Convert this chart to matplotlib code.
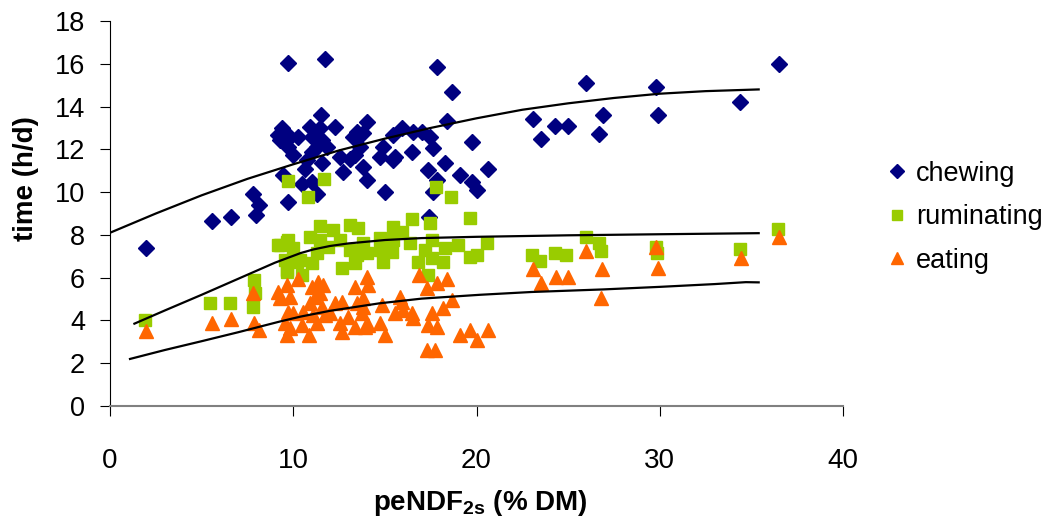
import matplotlib
matplotlib.use("Agg")
import matplotlib.pyplot as plt

plt.rcParams['font.family'] = ['Liberation Sans', 'DejaVu Sans']
plt.rcParams['mathtext.fontset'] = 'custom'
plt.rcParams['mathtext.bf'] = 'Liberation Sans:bold'
plt.rcParams['mathtext.rm'] = 'Liberation Sans'

# chewing time (h/d) vs peNDF2s (% DM)
chew_x = [1.96, 5.55, 6.58, 7.82, 8.15, 7.95, 9.73, 9.73, 11.73, 17.82, 18.66, 18.37,
          11.51, 9.37, 9.18, 9.27, 9.82, 10.27, 9.73, 10.0, 10.91, 11.46, 11.0, 11.55,
          12.27, 11.28, 11.82, 11.0, 10.73, 11.55, 10.64, 9.46, 10.46, 11.0, 11.28,
          12.55, 12.73, 13.09, 13.27, 13.46, 14.0, 13.82, 13.64, 13.37, 13.82, 14.0,
          14.91, 14.73, 15.0, 15.46, 15.91, 15.55, 15.46, 16.46, 16.55, 17.0, 17.46,
          17.64, 17.37, 17.82, 17.64, 18.28, 19.09, 19.73, 19.73, 20.0, 20.64, 17.42,
          23.1, 23.5, 24.3, 25.0, 26.0, 26.9, 26.7, 29.8, 29.9, 34.4, 36.5]
chew_y = [7.38, 8.64, 8.85, 9.9, 9.39, 8.93, 9.55, 16.04, 16.21, 15.86, 14.69, 13.32,
          13.6, 12.98, 12.66, 12.43, 12.58, 12.58, 12.12, 11.73, 13.05, 12.98, 12.58, 12.43,
          13.05, 12.12, 12.12, 11.88, 11.5, 11.34, 11.1, 10.79, 10.37, 10.48, 9.91,
          11.65, 10.95, 11.57, 12.58, 12.82, 13.29, 12.74, 12.12, 11.73, 11.18, 10.56,
          12.12, 11.65, 9.99, 12.66, 12.98, 11.65, 11.5, 11.88, 12.82, 12.82, 12.58,
          12.04, 11.03, 10.56, 10.01, 11.34, 10.79, 12.35, 10.48, 10.09, 11.07, 8.85,
          13.4, 12.5, 13.1, 13.1, 15.1, 13.6, 12.7, 14.9, 13.6, 14.2, 16.0]

# ruminating time (h/d)
rum_x = [1.91, 5.46, 6.55, 7.78, 7.86, 7.91, 9.27, 9.73, 9.64, 10.18,
         9.69, 11.67, 10.82, 17.77, 18.59, 16.46, 19.64, 17.46, 11.46, 12.18, 13.09,
         13.55, 15.46, 15.91, 14.73, 9.18, 9.64, 10.0, 9.55, 9.64, 10.37, 10.91, 11.46,
         11.28, 11.0, 10.46, 11.91, 12.55, 12.64, 13.09, 13.46, 13.37, 13.82, 14.0,
         14.73, 14.91, 15.46, 15.37, 16.37, 16.82, 17.18, 17.55, 17.55, 18.28, 18.18,
         19.0, 19.64, 20.0, 20.6, 17.37,
         23.04, 23.46, 24.3, 24.9, 25.97, 26.7, 26.8, 29.77, 29.86, 34.37, 36.46]
rum_y = [4.02, 4.83, 4.83, 4.64, 5.89, 5.27, 7.52, 7.76, 6.36, 6.74,
         10.51, 10.59, 9.78, 10.25, 9.78, 8.74, 8.79, 8.54, 8.43, 8.22, 8.46,
         8.3, 8.38, 8.14, 7.84, 7.52, 7.68, 7.37, 6.82, 6.28, 6.82, 7.91, 7.76,
         7.14, 6.67, 6.12, 7.45, 7.76, 6.43, 7.29, 7.06, 6.67, 7.6, 7.14,
         7.29, 6.74, 7.76, 7.21, 7.6, 6.74, 7.29, 7.76, 6.9, 7.37, 6.74,
         7.52, 6.98, 7.06, 7.6, 6.12,
         7.06, 6.79, 7.16, 7.06, 7.88, 7.6, 7.24, 7.44, 7.16, 7.34, 8.26]

# eating time (h/d)
eat_x = [1.96, 5.55, 6.58, 7.82, 7.86, 8.15, 9.18, 9.64, 9.27, 9.82, 10.27, 9.73,
         10.0, 9.55, 9.82, 9.64, 10.55, 10.46, 10.87, 11.0, 11.37, 11.64, 11.18, 11.46,
         10.91, 11.55, 11.09, 11.73, 11.28, 12.0, 12.27, 12.64, 12.55, 12.64, 13.0,
         13.37, 13.46, 13.37, 13.82, 13.73, 13.91, 14.0, 14.09, 13.82, 14.09, 14.82,
         14.73, 15.0, 15.55, 15.91, 16.0, 16.46, 16.55, 16.87, 17.28, 17.37, 17.82,
         17.55, 17.28, 17.73, 17.82, 18.37, 18.64, 18.18, 19.09, 19.64, 20.0, 20.64,
         15.82, 23.1, 23.5, 24.33, 24.97, 26.0, 26.86, 26.77, 29.79, 29.91, 34.44, 36.51]
eat_y = [3.52, 3.86, 4.05, 5.3, 3.89, 3.55, 5.34, 5.65, 5.03, 5.11, 5.92, 4.41,
         4.33, 3.86, 3.63, 3.32, 4.41, 3.79, 3.32, 5.57, 5.81, 5.65, 5.11, 5.27,
         4.8, 4.64, 4.25, 4.25, 3.86, 4.33, 4.8, 4.87, 3.86, 3.47, 4.17,
         5.57, 4.8, 3.71, 5.03, 4.33, 3.71, 6.04, 5.65, 4.64, 3.79, 4.72,
         3.86, 3.32, 4.33, 4.87, 4.49, 4.33, 4.1, 6.12, 5.5, 3.79, 3.71,
         4.33, 2.62, 2.62, 5.73, 5.92, 4.95, 4.57, 3.32, 3.55, 3.08, 3.55,
         5.11, 6.39, 5.73, 6.01, 6.01, 7.26, 6.39, 5.03, 7.44, 6.46, 6.9, 7.91]

# trend curves
chew_fit_x = [0, 2.5, 5, 7.5, 10, 12.5, 15, 17.5, 20, 22.5, 25, 27.5, 30, 32.5, 35.4]
chew_fit_y = [8.1, 9.0, 9.85, 10.62, 11.3, 11.95, 12.5, 13.0, 13.45, 13.85, 14.15, 14.4, 14.6, 14.72, 14.8]
rum_fit_x = [1.33, 3, 5, 7, 9, 10.4, 11.1, 12, 13, 15, 17, 20, 25, 30, 35.4]
rum_fit_y = [3.85, 4.47, 5.2, 5.95, 6.7, 7.15, 7.32, 7.48, 7.6, 7.76, 7.85, 7.91, 7.98, 8.03, 8.08]
eat_fit_x = [1.09, 3, 5, 7, 9.27, 10.4, 12, 14.7, 17, 20.2, 23, 26.9, 30, 33, 34.7, 35.4]
eat_fit_y = [2.2, 2.62, 3.03, 3.45, 3.95, 4.18, 4.45, 4.8, 5.02, 5.2, 5.33, 5.45, 5.57, 5.7, 5.79, 5.78]

fig = plt.figure(figsize=(10.52, 5.18), dpi=100)
ax = fig.add_axes([0.1046, 0.2162, 0.6967, 0.7433])

ax.plot(chew_fit_x, chew_fit_y, color="black", lw=1.6, zorder=3)
ax.plot(rum_fit_x, rum_fit_y, color="black", lw=1.6, zorder=3)
ax.plot(eat_fit_x, eat_fit_y, color="black", lw=1.6, zorder=3)

ax.plot(chew_x, chew_y, "D", color="#000080", ms=8.5, mec="#000080", label="chewing", zorder=2)
ax.plot(rum_x, rum_y, "s", color="#99CC00", ms=8, mec="#99CC00", label="ruminating", zorder=2)
ax.plot(eat_x, eat_y, "^", color="#FF6600", ms=10.5, mec="#FF6600", label="eating", zorder=2)

ax.set_xlim(0, 40)
ax.set_ylim(0, 18)
ax.set_xticks([0, 10, 20, 30, 40])
ax.set_yticks(range(0, 19, 2))
ax.tick_params(direction="out", length=7, labelsize=19.5)
ax.tick_params(axis="y", pad=11)
ax.tick_params(axis="x", pad=23, labelsize=20)
for s in ["top", "right"]:
    ax.spines[s].set_visible(False)
ax.spines["bottom"].set_color("#808080")
ax.spines["bottom"].set_linewidth(1.5)

ax.set_ylabel("time (h/d)", fontsize=20, fontweight="bold")
ax.yaxis.set_label_coords(-0.097, 0.59)
ax.set_xlabel(r"peNDF$_{\mathbf{2s}}$ (% DM)", fontsize=20, fontweight="bold")
ax.xaxis.set_label_coords(0.505, -0.213)

ax.legend(loc="center left", bbox_to_anchor=(1.026, 0.49), frameon=False, fontsize=19.5,
          markerscale=0.85, handlelength=0.8, handletextpad=0.3, labelspacing=0.65)

plt.savefig("out.png", dpi=100)
